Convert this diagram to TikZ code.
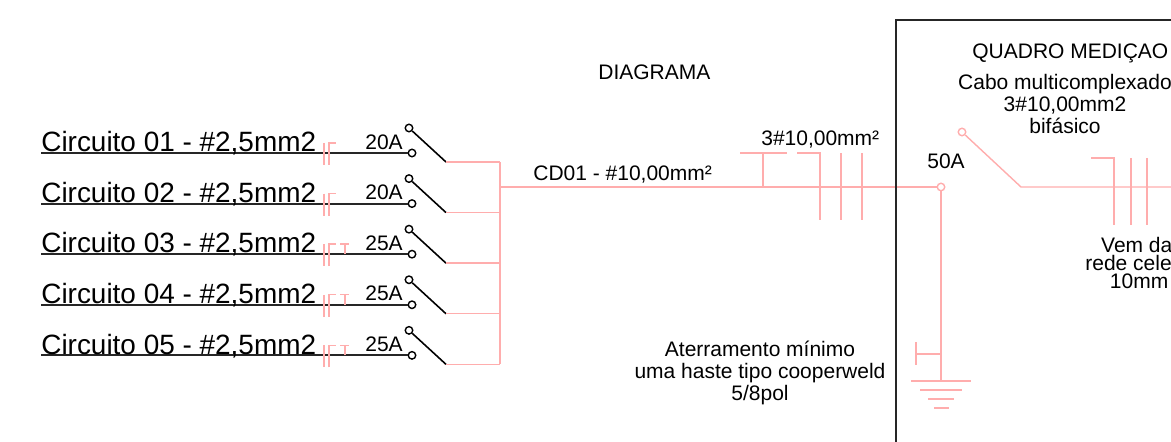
\documentclass[tikz,border=0pt]{standalone}
\usepackage{fontspec}
\setmainfont{Liberation Sans}
\usetikzlibrary{positioning,calc}

\begin{document}
\begin{tikzpicture}[x=.02cm, y=-.02cm, on grid]

        \def\d{1.012cm}

        % Line styles and text sizes
        \tikzset{
            wire/.style={draw=red!32, line width=.8pt},
            cable/.style={draw=black!85, line width=1.2pt},
            blade/.style={draw=black, line width=.9pt},
            frame/.style={draw=black!85, line width=.9pt},
            term/.style={circle, draw=black, line width=.8pt, fill=white, inner sep=0pt, minimum size=.15cm},
            pterm/.style={term, draw=red!32},
            big/.style={inner sep=0pt, anchor=base west, font=\fontsize{15.9}{17}\selectfont},
            small/.style={inner sep=0pt, anchor=base west, font=\fontsize{11.95}{12.3}\selectfont},
            block/.style={inner sep=0pt, align=center, font=\fontsize{11.95}{12.4}\selectfont}
        }

        % Marks on a circuit line
        \def\fuse#1{
            \draw[wire] (#1) ++(0,-10) -- ++(0,22);
            \draw[wire] (#1) ++(5,12) -- ++(0,-22) -- ++(7,0);
        }
        \def\neutral#1{
            \draw[wire] (#1) ++(21,0) -- ++(0,-10);
            \draw[wire] (#1) ++(16,-10) -- ++(9,0);
        }

        \useasboundingbox (0,0) rectangle (1171,442);

        % Left ends of the circuit lines
        \coordinate (L1) at (41,153);
        \coordinate[below=\d of L1] (L2);
        \coordinate[below=\d of L2] (L3);
        \coordinate[below=\d of L3] (L4);
        \coordinate[below=\d of L4] (L5);

        % Marks along the lines
        \coordinate (M1) at (324,153);
        \coordinate[below=\d of M1] (M2);
        \coordinate[below=\d of M2] (M3);
        \coordinate[below=\d of M3] (M4);
        \coordinate[below=\d of M4] (M5);

        % Breakers
        \node (T1) [term] at (412,153) {};
        \node (T2) [term, below=\d of T1] {};
        \node (T3) [term, below=\d of T2] {};
        \node (T4) [term, below=\d of T3] {};
        \node (T5) [term, below=\d of T4] {};
        \node (U1) [term] at (409,128) {};
        \node (U2) [term, below=\d of U1] {};
        \node (U3) [term, below=\d of U2] {};
        \node (U4) [term, below=\d of U3] {};
        \node (U5) [term, below=\d of U4] {};
        \coordinate (H1) at (446,162);
        \coordinate[below=\d of H1] (H2);
        \coordinate[below=\d of H2] (H3);
        \coordinate[below=\d of H3] (H4);
        \coordinate[below=\d of H4] (H5);
        \coordinate (B1) at (500,162);
        \coordinate[below=\d of B1] (B2);
        \coordinate[below=\d of B2] (B3);
        \coordinate[below=\d of B3] (B4);
        \coordinate[below=\d of B4] (B5);

        % Feeder and panel
        \coordinate (F0) at (500,187);
        \node (P) [pterm] at (941,187) {};
        \node (Q) [pterm] at (962,132) {};
        \coordinate (R) at (1021,187);
        \coordinate (E) at (1171,187);
        \coordinate (G) at (941,381);
        \coordinate (GR) at (916,354);
        \coordinate (K) at (763,187);
        \coordinate (KT) at (763,153);
        \coordinate (W1) at (1171,20);
        \coordinate (W2) at (896,20);
        \coordinate (W3) at (896,442);

        \begin{scope}[cable]
            \draw (L1) -- (T1);
            \draw (L2) -- (T2);
            \draw (L3) -- (T3);
            \draw (L4) -- (T4);
            \draw (L5) -- (T5);
        \end{scope}

        \begin{scope}[blade]
            \draw (U1) -- (H1);
            \draw (U2) -- (H2);
            \draw (U3) -- (H3);
            \draw (U4) -- (H4);
            \draw (U5) -- (H5);
        \end{scope}

        \begin{scope}[wire]
            \draw (H1) -- (B1);
            \draw (H2) -- (B2);
            \draw (H3) -- (B3);
            \draw (H4) -- (B4);
            \draw (H5) -- (B5);
            \draw (B1) -- (B5);
            \draw (F0) -- (P);
            \draw (P) -- (G);
            \draw (Q) -- (R) -- (E);
            \draw (K) -- (KT);
            \draw (GR) -- (GR -| P);
        \end{scope}

        \fuse{M1}
        \fuse{M2}
        \fuse{M3}
        \fuse{M4}
        \fuse{M5}
        \neutral{M3}
        \neutral{M4}
        \neutral{M5}

        % Conductor marks on the feeder
        \draw[wire] (740,153) -- (787,153);
        \draw[wire] (797,153) -- (820,153) -- (820,220);
        \draw[wire] (841,153) -- (841,220);
        \draw[wire] (862,153) -- (862,220);
        \draw[wire] (1091,158) -- (1114,158) -- (1114,225);
        \draw[wire] (1131,158) -- (1131,225);
        \draw[wire] (1147,158) -- (1147,225);

        % Ground
        \draw[wire] (916,342) -- (916,365);
        \draw[wire] (911,381) -- (971,381);
        \draw[wire] (920,390) -- (962,390);
        \draw[wire] (928,399) -- (954,399);
        \draw[wire] (934,408) -- (949,408);

        \draw[frame] (W1) -- (W2) -- (W3);

        % Labels
        \node (C1) [big] at (41,152) {Circuito 01 - \#2,5mm2};
        \node (C2) [big] at (41,203) {Circuito 02 - \#2,5mm2};
        \node (C3) [big] at (41,253) {Circuito 03 - \#2,5mm2};
        \node (C4) [big] at (41,304) {Circuito 04 - \#2,5mm2};
        \node (C5) [big] at (41,355) {Circuito 05 - \#2,5mm2};
        \node (A1) [small] at (365,150) {20A};
        \node (A2) [small] at (365,200) {20A};
        \node (A3) [small] at (365,251) {25A};
        \node (A4) [small] at (365,301) {25A};
        \node (A5) [small] at (365,352) {25A};
        \node (title) [small] at (598,80) {DIAGRAMA};
        \node (feeder) [small] at (533,181) {CD01 - \#10,00mm²};
        \node (section) [small] at (761,146) {3\#10,00mm²};
        \node (main) [small] at (927,169) {50A};
        \node (panel) [small] at (972,59) {QUADRO MEDIÇAO};
        \node (cable) [block] at (1065,104) {Cabo multicomplexado\\3\#10,00mm2\\bifásico};
        \node (rod) [block] at (760,373) {Aterramento mínimo\\uma haste tipo cooperweld\\5/8pol};
        \node (grid) [inner sep=0pt, anchor=west, align=left, font=\fontsize{11.95}{10.2}\selectfont] at (1085,263)
        {\hspace*{9pt}Vem da\\rede cele\\\hspace*{14pt}10mm};

\end{tikzpicture}
\end{document}
